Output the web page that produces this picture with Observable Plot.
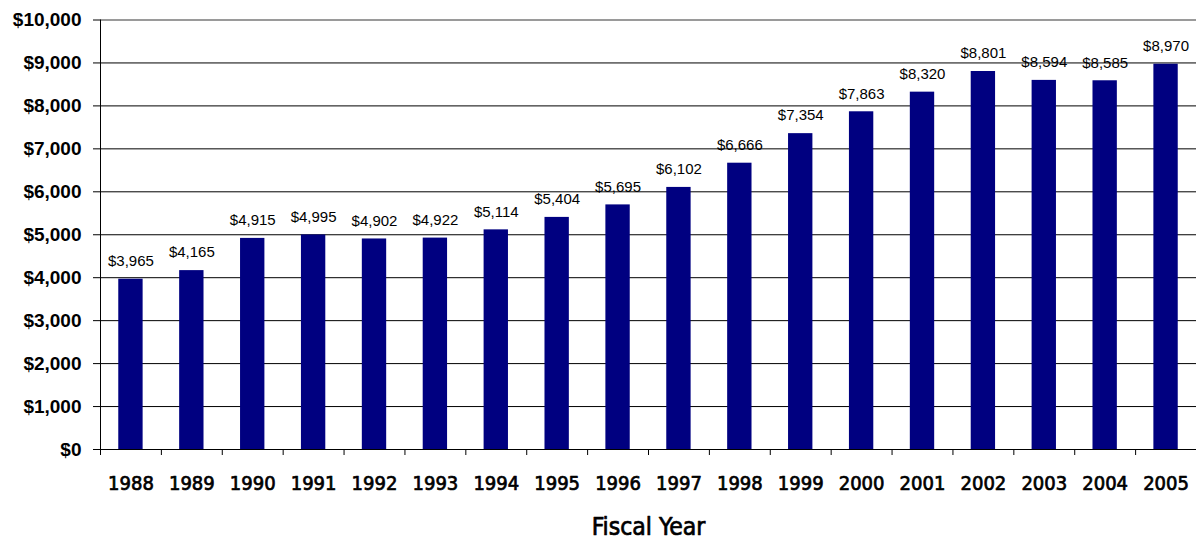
<!DOCTYPE html>
<html>
<head>
<meta charset="utf-8">
<script src="https://cdn.jsdelivr.net/npm/d3@7"></script>
<script src="https://cdn.jsdelivr.net/npm/@observablehq/plot@0.6"></script>
<style>
  html, body { margin: 0; padding: 0; background: #fff; }
  #chart svg { display: block; }
</style>
</head>
<body>
<div id="chart"></div>
<script>
const years = ["1988","1989","1990","1991","1992","1993","1994","1995","1996","1997","1998","1999","2000","2001","2002","2003","2004","2005"];
const values = [3965, 4165, 4915, 4995, 4902, 4922, 5114, 5404, 5695, 6102, 6666, 7354, 7863, 8320, 8801, 8594, 8585, 8970];
const yTicks = [0, 1000, 2000, 3000, 4000, 5000, 6000, 7000, 8000, 9000, 10000];
const xTitle = "Fiscal Year";

const data = years.map((y, i) => ({year: y, value: values[i]}));

const W = 1196, H = 542;
const mL = 100, mR = 0, mT = 19.5, mB = 93;
const step = (W - mL - mR) / years.length;
const dollar = d => "$" + d3.format(",")(d);
const condensed = "'DejaVu Sans Condensed', 'Liberation Sans Narrow', sans-serif";

const chart = Plot.plot({
  width: W,
  height: H,
  marginLeft: mL,
  marginRight: mR,
  marginTop: mT,
  marginBottom: mB,
  style: {fontFamily: "'Liberation Sans', Arial, sans-serif", color: "#000", background: "#fff"},
  x: {domain: years, paddingInner: 0.6, paddingOuter: 0.3, round: false, label: null},
  y: {domain: [0, 10000], label: null},
  marks: [
    Plot.gridY(yTicks.filter(t => t > 0 && t < 10000), {stroke: "#000", strokeOpacity: 1}),
    Plot.ruleY([10000], {stroke: "#9a9a9a", strokeWidth: 2}),
    Plot.barY(data, {x: "year", y: "value", fill: "#000080"}),
    Plot.text(data, {x: "year", y: "value", text: d => dollar(d.value), dy: -18, lineAnchor: "middle", fontSize: 15, fill: "#000"}),
    Plot.ruleY([0], {stroke: "#000"}),
    Plot.frame({anchor: "left", stroke: "#000"}),
    Plot.axisY({ticks: yTicks, tickFormat: dollar, tickSize: 7, tickPadding: 12, fontSize: 19, fontWeight: "bold", label: null}),
    Plot.axisX({tickSize: 6, tickFormat: () => "", dx: -step / 2, label: null}),
    Plot.axisX({tickSize: 0, tickPadding: 26, fontSize: 20, fontFamily: condensed, textStroke: "#000", textStrokeWidth: 0.7, label: null}),
    Plot.text([xTitle], {text: d => d, frameAnchor: "bottom", dy: 78, lineAnchor: "middle", fontSize: 24.5, fontFamily: condensed, fill: "#000", stroke: "#000", strokeWidth: 0.7})
  ]
});

document.getElementById("chart").appendChild(chart);
</script>
</body>
</html>
